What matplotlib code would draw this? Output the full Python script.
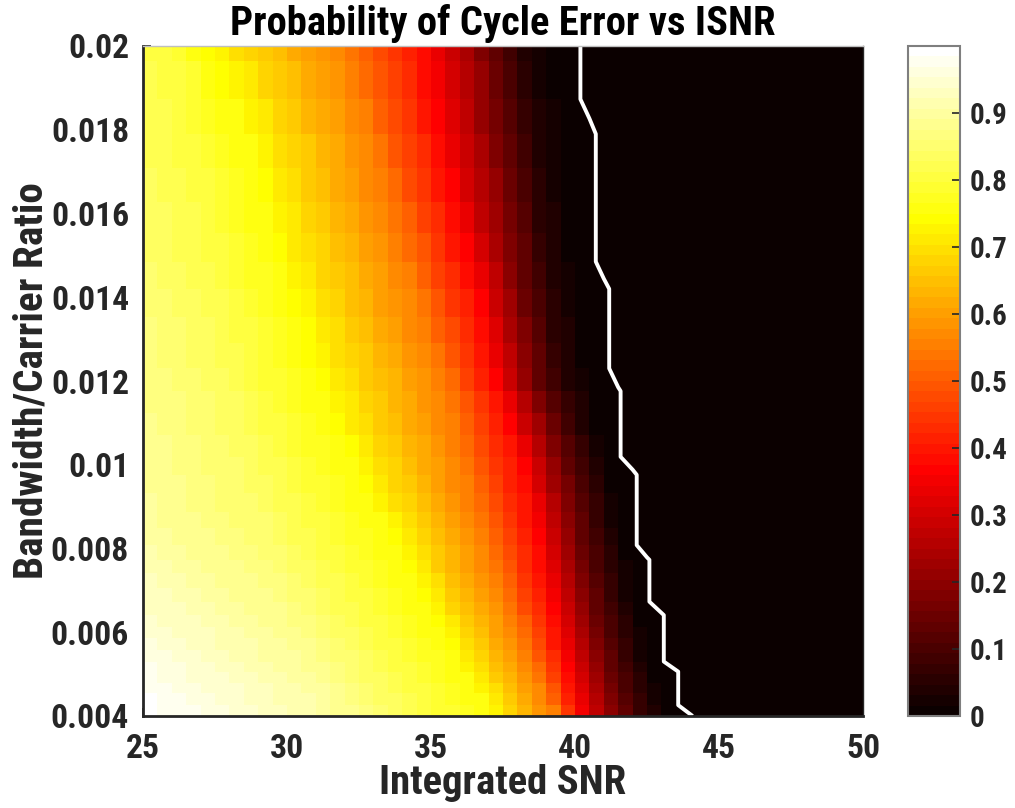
import os
import numpy as np
import matplotlib
matplotlib.use("Agg")
import matplotlib.pyplot as plt
from matplotlib import font_manager
from matplotlib.font_manager import FontProperties
from matplotlib.textpath import TextPath

# Integrated SNR grid (dB), one node every 0.5 dB
isnr = np.arange(25.0, 50.0 + 0.25, 0.5)

# Bandwidth/carrier ratio grid nodes (bottom to top)
bw_ratio = [0.00400, 0.00426, 0.00455, 0.00479, 0.00506, 0.00530, 0.00558,
            0.00586, 0.00613, 0.00641, 0.00673, 0.00706, 0.00741, 0.00773,
            0.00808, 0.00849, 0.00888, 0.00933, 0.00976, 0.01019, 0.01071,
            0.01124, 0.01176, 0.01230, 0.01290, 0.01354, 0.01420, 0.01485,
            0.01554, 0.01628, 0.01708, 0.01790, 0.01873, 0.01963, 0.02000]

# Probability of cycle error (per mille), one list per ratio node starting at
# 25 dB; columns beyond the end of a list are zero.
p_rows = [
    [990, 983, 976, 969, 962, 954, 947, 940, 933, 925, 918, 911, 902, 889, 875, 862, 849, 835, 822, 809, 795, 782, 769, 755, 724, 680, 637, 593, 550, 444, 345, 268, 191, 125, 71, 36, 12, 9, 6],
    [985, 978, 971, 964, 956, 949, 942, 935, 928, 921, 914, 907, 896, 883, 870, 856, 843, 830, 817, 803, 790, 777, 763, 750, 707, 663, 620, 576, 513, 421, 334, 258, 181, 118, 66, 23, 10, 6],
    [980, 973, 966, 959, 952, 945, 938, 930, 923, 916, 909, 902, 891, 877, 864, 851, 838, 824, 811, 798, 784, 771, 758, 733, 690, 648, 605, 563, 488, 400, 319, 242, 165, 108, 55, 16, 9, 6],
    [975, 968, 961, 953, 946, 939, 932, 924, 917, 910, 903, 896, 883, 869, 856, 843, 830, 816, 803, 790, 777, 763, 750, 709, 668, 628, 587, 542, 461, 381, 304, 227, 150, 97, 47, 12, 9, 6],
    [970, 963, 956, 949, 941, 934, 927, 920, 913, 906, 899, 890, 877, 864, 851, 837, 824, 811, 798, 784, 771, 758, 734, 694, 654, 614, 574, 519, 442, 365, 288, 211, 139, 87, 41, 12, 9, 6],
    [962, 955, 948, 941, 934, 927, 920, 913, 906, 899, 892, 883, 870, 857, 844, 831, 818, 805, 792, 779, 766, 753, 718, 678, 638, 598, 558, 493, 422, 350, 273, 196, 129, 76, 31, 10, 6],
    [956, 949, 942, 935, 928, 921, 914, 907, 900, 893, 886, 875, 862, 849, 836, 823, 810, 797, 784, 771, 758, 735, 697, 659, 622, 584, 543, 475, 406, 334, 258, 181, 118, 66, 23, 9, 6],
    [950, 943, 936, 929, 922, 915, 908, 901, 895, 888, 881, 868, 856, 843, 830, 817, 804, 791, 778, 765, 753, 720, 682, 645, 607, 569, 518, 454, 391, 319, 242, 165, 108, 55, 16, 9, 6],
    [943, 936, 929, 922, 916, 909, 902, 895, 888, 881, 874, 861, 848, 836, 823, 811, 798, 785, 773, 760, 743, 706, 669, 631, 594, 557, 501, 439, 377, 304, 227, 150, 97, 47, 12, 9, 6],
    [936, 929, 922, 916, 909, 902, 895, 889, 882, 875, 866, 853, 841, 828, 816, 803, 790, 778, 765, 753, 721, 686, 650, 614, 579, 538, 481, 423, 365, 288, 211, 139, 87, 41, 12, 9, 6],
    [929, 922, 916, 909, 903, 896, 889, 882, 876, 869, 859, 846, 834, 822, 809, 797, 785, 772, 760, 743, 707, 671, 636, 600, 564, 517, 463, 409, 350, 273, 196, 129, 76, 31, 10, 6],
    [922, 915, 909, 902, 896, 889, 882, 876, 869, 863, 851, 839, 826, 814, 802, 790, 777, 765, 752, 723, 689, 655, 621, 587, 553, 502, 450, 397, 334, 258, 181, 118, 66, 23, 9, 6],
    [915, 908, 902, 895, 889, 882, 876, 869, 862, 855, 842, 830, 818, 806, 794, 782, 769, 757, 737, 704, 671, 639, 606, 573, 535, 485, 435, 385, 319, 242, 165, 108, 55, 16, 9, 6],
    [908, 902, 895, 889, 882, 876, 870, 863, 857, 848, 836, 824, 812, 800, 788, 776, 764, 752, 724, 692, 660, 627, 595, 563, 521, 472, 423, 375, 304, 227, 150, 97, 47, 12, 9, 6],
    [900, 894, 887, 881, 875, 869, 862, 856, 850, 840, 828, 816, 804, 792, 781, 769, 757, 738, 706, 675, 644, 613, 581, 550, 504, 458, 411, 365, 288, 211, 139, 87, 39, 11, 7],
    [896, 890, 883, 877, 871, 864, 858, 851, 845, 833, 821, 809, 798, 786, 774, 762, 750, 720, 690, 660, 631, 601, 571, 536, 491, 446, 401, 350, 273, 196, 129, 76, 31, 10, 7],
    [892, 885, 879, 872, 866, 859, 853, 846, 837, 825, 813, 801, 789, 777, 765, 752, 728, 700, 672, 644, 617, 589, 561, 524, 480, 436, 391, 334, 258, 181, 118, 66, 23, 10, 7],
    [888, 881, 875, 868, 862, 855, 849, 842, 831, 819, 807, 794, 782, 770, 757, 739, 712, 685, 658, 631, 604, 577, 550, 507, 464, 421, 378, 311, 234, 158, 103, 50, 12, 10, 7],
    [885, 878, 871, 865, 858, 851, 845, 838, 825, 813, 800, 788, 775, 763, 750, 724, 698, 672, 646, 620, 594, 568, 537, 494, 451, 408, 365, 288, 211, 139, 87, 41, 12, 10, 7],
    [882, 875, 868, 861, 854, 847, 841, 832, 819, 806, 794, 781, 768, 755, 735, 710, 685, 660, 635, 610, 585, 560, 524, 480, 436, 391, 334, 258, 181, 118, 66, 23, 10, 6],
    [878, 871, 864, 857, 850, 842, 835, 824, 811, 798, 784, 771, 758, 740, 717, 693, 669, 645, 621, 598, 574, 550, 505, 460, 415, 370, 296, 219, 145, 92, 44, 12, 9, 6],
    [874, 867, 860, 852, 845, 838, 831, 818, 804, 791, 777, 764, 750, 727, 704, 681, 658, 635, 612, 589, 566, 536, 488, 441, 393, 334, 258, 181, 118, 66, 34, 12, 9, 6],
    [870, 863, 855, 848, 841, 833, 824, 810, 796, 783, 769, 755, 737, 714, 692, 670, 648, 625, 603, 581, 559, 519, 468, 416, 365, 288, 211, 139, 87, 45, 29, 12, 9, 6],
    [865, 858, 850, 843, 835, 828, 817, 803, 789, 775, 761, 746, 723, 701, 679, 657, 634, 612, 590, 568, 541, 493, 446, 398, 343, 269, 194, 129, 76, 37, 12, 10, 8],
    [860, 853, 845, 838, 831, 823, 811, 797, 783, 769, 756, 736, 714, 691, 668, 645, 623, 600, 577, 555, 515, 471, 427, 383, 321, 247, 172, 113, 60, 33, 12, 10, 8],
    [854, 847, 839, 832, 825, 817, 803, 789, 775, 761, 745, 723, 700, 677, 655, 632, 609, 586, 564, 533, 491, 449, 407, 365, 293, 222, 150, 97, 48, 30, 12, 10, 8],
    [849, 841, 834, 826, 818, 808, 795, 781, 767, 753, 732, 709, 686, 664, 641, 618, 595, 573, 550, 509, 468, 427, 386, 332, 267, 202, 139, 87, 45, 29, 12, 10, 8],
    [843, 835, 828, 820, 812, 800, 786, 772, 758, 741, 718, 695, 673, 650, 627, 605, 582, 559, 526, 486, 445, 405, 365, 305, 246, 186, 129, 76, 37, 12, 10, 9],
    [838, 830, 823, 815, 807, 793, 779, 764, 750, 727, 705, 682, 659, 636, 614, 591, 568, 542, 503, 464, 424, 385, 337, 280, 223, 167, 113, 61, 33, 12, 10, 9],
    [832, 824, 818, 811, 800, 786, 772, 758, 741, 717, 694, 671, 648, 624, 601, 578, 555, 519, 481, 442, 404, 365, 311, 258, 204, 150, 97, 48, 30, 12, 10, 9],
    [827, 819, 811, 804, 793, 779, 764, 750, 727, 703, 680, 657, 634, 610, 587, 564, 535, 497, 459, 422, 384, 339, 288, 237, 186, 134, 81, 44, 28, 12, 10, 9],
    [821, 813, 804, 796, 781, 765, 750, 728, 706, 683, 661, 639, 617, 594, 572, 550, 513, 476, 439, 402, 365, 316, 267, 218, 170, 118, 66, 40, 26, 12, 10, 9],
    [816, 806, 797, 782, 764, 746, 725, 704, 683, 662, 642, 621, 600, 579, 558, 529, 494, 459, 424, 389, 350, 301, 252, 204, 155, 103, 50, 31, 12, 10, 8],
    [810, 798, 785, 763, 742, 723, 703, 683, 664, 644, 624, 605, 585, 566, 543, 510, 477, 444, 411, 378, 335, 285, 235, 185, 134, 82, 44, 28, 12, 10, 8],
    [810, 798, 785, 763, 742, 723, 703, 683, 664, 644, 624, 605, 585, 566, 543, 510, 477, 444, 411, 378, 335, 285, 235, 185, 134, 82, 44, 28, 12, 10, 8],
]

contour_level = 0.005
x_ticks = [25, 30, 35, 40, 45, 50]
y_ticks = [0.004, 0.006, 0.008, 0.01, 0.012, 0.014, 0.016, 0.018, 0.02]
y_tick_labels = ['0.004', '0.006', '0.008', '0.01', '0.012', '0.014', '0.016', '0.018', '0.02']
cbar_ticks = [0, 0.1, 0.2, 0.3, 0.4, 0.5, 0.6, 0.7, 0.8, 0.9]
cbar_tick_labels = ['0', '0.1', '0.2', '0.3', '0.4', '0.5', '0.6', '0.7', '0.8', '0.9']
title_text = 'Probability of Cycle Error vs ISNR'
xlabel_text = 'Integrated SNR'
ylabel_text = 'Bandwidth/Carrier Ratio'


def _is_bold(entry):
    w = entry.weight
    if isinstance(w, str):
        return 'bold' in w.lower() or w.lower() in ('heavy', 'black')
    return w >= 600


def pick_bold_narrow_font():
    """Return a FontProperties for a bold, preferably narrow sans font."""
    entries = font_manager.fontManager.ttflist
    wanted = ['liberation sans narrow', 'arial narrow', 'noto sans condensed',
              'roboto condensed', 'open sans condensed', 'dejavu sans condensed']
    for key in wanted:
        for e in entries:
            label = (e.name + ' ' + os.path.basename(e.fname)).lower()
            if key in label and _is_bold(e) and 'extra' not in label \
                    and 'semi' not in label and 'italic' not in label \
                    and 'oblique' not in label:
                return FontProperties(fname=e.fname)
    for e in entries:
        label = (e.name + ' ' + os.path.basename(e.fname)).lower()
        if e.stretch in ('condensed', 'semi-condensed') and _is_bold(e) \
                and 'italic' not in label and 'mono' not in label \
                and 'serif' not in label.replace('sans', ''):
            return FontProperties(fname=e.fname)
    return FontProperties(family=['Liberation Sans', 'DejaVu Sans'], weight='bold')


base_font = pick_bold_narrow_font()


def sized_font(text, width_px):
    """Font size (pt) at which `text` spans width_px pixels at 100 dpi."""
    probe = base_font.copy()
    probe.set_size(100)
    w = TextPath((0, 0), text, prop=probe).get_extents().width * 100 / 72
    fp = base_font.copy()
    fp.set_size(100 * width_px / w)
    return fp


tick_font = sized_font('0.004', 75)
cbar_font = sized_font('0.9', 35)
title_font = sized_font(title_text, 542)
xlabel_font = sized_font(xlabel_text, 244)
ylabel_font = sized_font(ylabel_text, 393)

# probability matrix on the (ratio, ISNR) node grid
prob = np.zeros((len(bw_ratio), len(isnr)))
for j, row in enumerate(p_rows):
    prob[j, :len(row)] = np.asarray(row, dtype=float) / 1000.0

W, H = 1015, 808
fig = plt.figure(figsize=(W / 100, H / 100), dpi=100)
ax = fig.add_axes([143 / W, (H - 716) / H, 720 / W, 670 / H])

cmap = plt.get_cmap('hot', 64)
# each face takes the value of its lower-left node
mesh = ax.pcolormesh(isnr, bw_ratio, prob[:-1, :-1], cmap=cmap,
                     vmin=0, vmax=1, shading='flat')
ax.contour(isnr, bw_ratio, prob, levels=[contour_level],
           colors='white', linewidths=2.8)

ax.set_xlim(25, 50)
ax.set_ylim(0.004, 0.02)
ax.set_axisbelow(True)
ax.set_xticks(x_ticks)
ax.set_xticklabels([str(v) for v in x_ticks], fontproperties=tick_font)
ax.set_yticks(y_ticks)
ax.set_yticklabels(y_tick_labels, fontproperties=tick_font)

tick_color = '#262626'
ax.tick_params(axis='both', direction='in', length=6, width=1.2,
               colors=tick_color)
ax.tick_params(axis='x', pad=12)
ax.tick_params(axis='y', pad=10)
for side in ['left', 'bottom']:
    ax.spines[side].set_color(tick_color)
    ax.spines[side].set_linewidth(2.0)
ax.spines['top'].set_color('#bfbfbf')
ax.spines['top'].set_linewidth(1.0)
ax.spines['right'].set_color(tick_color)
ax.spines['right'].set_linewidth(1.0)

ax.set_xlabel(xlabel_text, fontproperties=xlabel_font, color=tick_color)
ax.xaxis.set_label_coords(0.5, -0.072)
ax.set_ylabel(ylabel_text, fontproperties=ylabel_font, color=tick_color)
ax.yaxis.set_label_coords(-0.128, 0.5)
ax.set_title(title_text, fontproperties=title_font, color='black', pad=8)

cax = fig.add_axes([908 / W, (H - 716) / H, 52 / W, 670 / H])
cb = fig.colorbar(mesh, cax=cax, ticks=cbar_ticks)
cb.ax.set_yticklabels(cbar_tick_labels, fontproperties=cbar_font)
cb.ax.tick_params(direction='in', length=6, width=1.2, colors=tick_color, pad=7)
cb.outline.set_edgecolor('#7f7f7f')
cb.outline.set_linewidth(1.5)

fig.savefig('out.png', dpi=100)
